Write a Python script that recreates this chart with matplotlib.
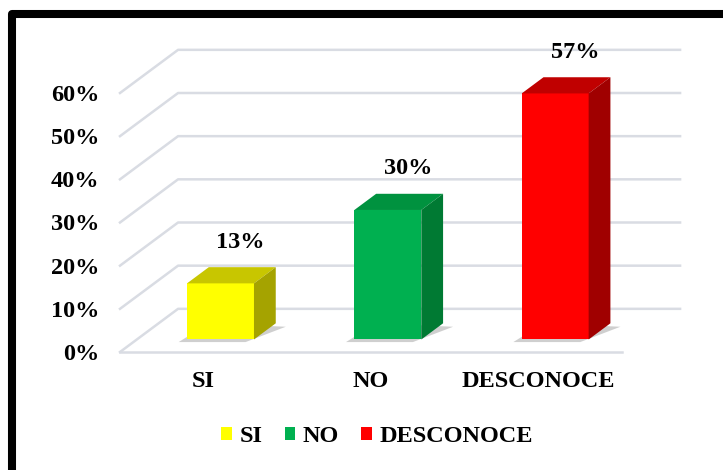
import numpy as np
import matplotlib
matplotlib.use("Agg")
import matplotlib.pyplot as plt
from matplotlib.patches import Polygon, Rectangle, Patch

categorias = ["SI", "NO", "DESCONOCE"]
valores = [13, 30, 57]
etiquetas = ["13%", "30%", "57%"]
frente = ["#FFFF00", "#00B050", "#FF0000"]
tapa = ["#C8C600", "#00923F", "#C00000"]
lado = ["#A5A300", "#007A33", "#A00000"]
ticks_y = [0, 10, 20, 30, 40, 50, 60]

plt.rcParams['font.family'] = ['Liberation Serif', 'DejaVu Serif']
plt.rcParams['font.weight'] = 'bold'
fs = 17.5

W, H = 723, 470
fig = plt.figure(figsize=(W / 100, H / 100), dpi=100)
ax = fig.add_axes([120 / W, 1 - 352 / H, 502 / W, 259 / H])
ax.set_xlim(-0.5, 2.5)
ax.set_ylim(0, 60)

# profundidad 3D (en unidades de datos)
ddx, ddy = 0.347, 10.0
f0, f1 = 0.29, 0.665
hw = 0.2
gris = "#D9DCE3"

# rejilla: pared lateral + pared de fondo
for v in ticks_y:
    ax.plot([-0.5, -0.5 + ddx, 2.5 + ddx], [v, v + ddy, v + ddy],
            color=gris, lw=1.8, clip_on=False, zorder=1)
ax.plot([-0.5, 2.5], [0, 0], color=gris, lw=1.8, clip_on=False, zorder=1)

for i, v in enumerate(valores):
    x0, x1 = i - hw, i + hw
    # sombra
    sx, sy = -0.05, -0.6
    ax.add_patch(Polygon([(x0 + f0 * ddx + sx, f0 * ddy + sy), (x1 + f0 * ddx + sx, f0 * ddy + sy),
                          (x1 + f1 * ddx + 0.06, f1 * ddy - 0.8), (x0 + f1 * ddx, f1 * ddy)],
                         closed=True, fc="#B0B0B0", ec="none", alpha=0.6, clip_on=False, zorder=2))
    # cara frontal
    ax.add_patch(Polygon([(x0 + f0 * ddx, f0 * ddy), (x1 + f0 * ddx, f0 * ddy),
                          (x1 + f0 * ddx, v + f0 * ddy), (x0 + f0 * ddx, v + f0 * ddy)],
                         closed=True, fc=frente[i], ec="none", clip_on=False, zorder=3))
    # tapa
    ax.add_patch(Polygon([(x0 + f0 * ddx, v + f0 * ddy), (x1 + f0 * ddx, v + f0 * ddy),
                          (x1 + f1 * ddx, v + f1 * ddy), (x0 + f1 * ddx, v + f1 * ddy)],
                         closed=True, fc=tapa[i], ec="none", clip_on=False, zorder=3))
    # lado
    ax.add_patch(Polygon([(x1 + f0 * ddx, f0 * ddy), (x1 + f1 * ddx, f1 * ddy),
                          (x1 + f1 * ddx, v + f1 * ddy), (x1 + f0 * ddx, v + f0 * ddy)],
                         closed=True, fc=lado[i], ec="none", clip_on=False, zorder=3))
    ax.annotate(etiquetas[i], (i + f1 * ddx - 0.01, v + f1 * ddy), xytext=(0, 18),
                textcoords="offset points", ha="center", va="center",
                fontsize=fs, fontweight="bold", zorder=4, annotation_clip=False)

for s in ax.spines.values():
    s.set_visible(False)
ax.set_facecolor("none")
ax.set_yticks(ticks_y)
ax.set_yticklabels([f"{t}%" for t in ticks_y], fontsize=fs, fontweight="bold")
ax.set_xticks(range(len(categorias)))
ax.set_xticklabels(categorias, fontsize=fs, fontweight="bold")
ax.tick_params(axis="y", length=0, pad=15)
ax.tick_params(axis="x", length=0, pad=14)

handles = [Patch(fc=c, ec="none") for c in frente]
fig.legend(handles, categorias, loc="center", bbox_to_anchor=(377 / W, 1 - 437 / H),
           ncol=3, frameon=False, handlelength=0.45, handleheight=0.45,
           handletextpad=0.3, columnspacing=0.9, prop={'weight': 'bold', 'size': fs})

fig.add_artist(Rectangle((12 / W, -0.1), 1.2, 1.1 - 14 / H, transform=fig.transFigure,
                         fill=False, ec="black", lw=5.8, joinstyle="round", zorder=10))

fig.savefig("out.png", dpi=100)
